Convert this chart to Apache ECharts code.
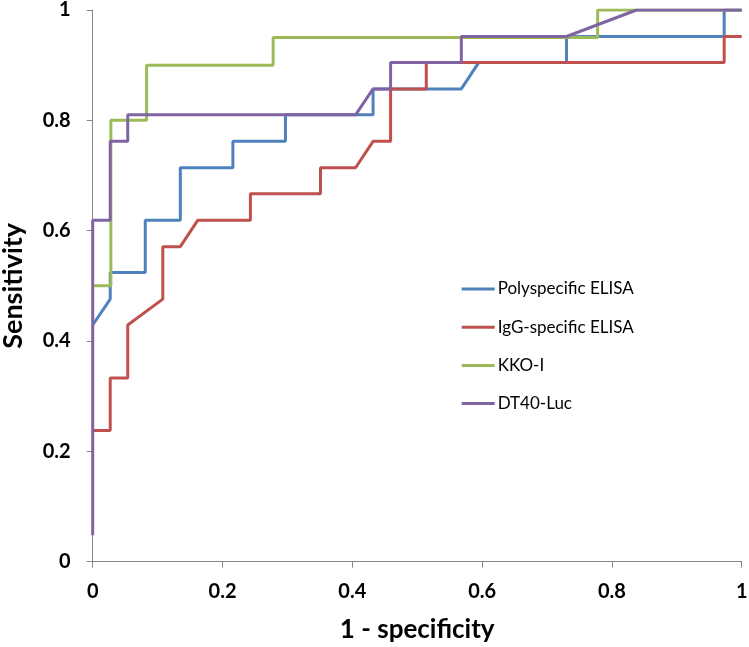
<!DOCTYPE html>
<html>
<head>
<meta charset="utf-8">
<script src="https://cdn.jsdelivr.net/npm/echarts@6/dist/echarts.min.js"></script>
<style>
html,body{margin:0;padding:0;background:#fff;}
#chart{width:749px;height:647px;}
</style>
</head>
<body>
<div id="chart"></div>
<script>
// Series names
const seriesNames = ['Polyspecific ELISA', 'IgG-specific ELISA', 'KKO-I', 'DT40-Luc'];
// Axis tick labels
const tickValues = [0, 0.2, 0.4, 0.6, 0.8, 1];

// Polyspecific ELISA (1 - specificity, sensitivity)
const polyX = [0, 0.027, 0.027, 0.081, 0.081, 0.135, 0.135, 0.216, 0.216, 0.297, 0.297, 0.432, 0.432, 0.568, 0.595, 0.730, 0.730, 0.973, 0.973, 1];
const polyY = [0.429, 0.476, 0.524, 0.524, 0.619, 0.619, 0.714, 0.714, 0.762, 0.762, 0.810, 0.810, 0.857, 0.857, 0.905, 0.905, 0.952, 0.952, 1, 1];

// IgG-specific ELISA
const iggX = [0, 0.027, 0.027, 0.054, 0.054, 0.108, 0.108, 0.135, 0.162, 0.243, 0.243, 0.351, 0.351, 0.405, 0.432, 0.459, 0.459, 0.514, 0.514, 0.973, 0.973, 1];
const iggY = [0.238, 0.238, 0.333, 0.333, 0.429, 0.476, 0.571, 0.571, 0.619, 0.619, 0.667, 0.667, 0.714, 0.714, 0.762, 0.762, 0.857, 0.857, 0.905, 0.905, 0.952, 0.952];

// KKO-I
const kkoX = [0, 0.028, 0.028, 0.083, 0.083, 0.278, 0.278, 0.778, 0.778, 1];
const kkoY = [0.5, 0.5, 0.8, 0.8, 0.9, 0.9, 0.95, 0.95, 1, 1];

// DT40-Luc
const dtX = [0, 0, 0.027, 0.027, 0.054, 0.054, 0.405, 0.432, 0.459, 0.459, 0.568, 0.568, 0.730, 0.838, 1];
const dtY = [0.048, 0.619, 0.619, 0.762, 0.762, 0.810, 0.810, 0.857, 0.857, 0.905, 0.905, 0.952, 0.952, 1, 1];

const colors = ['#4F81BD', '#C0504D', '#9BBB59', '#8064A2'];
const xs = [polyX, iggX, kkoX, dtX];
const ys = [polyY, iggY, kkoY, dtY];

const font = 'Lato, "Open Sans", "Liberation Sans", sans-serif';
const chart = echarts.init(document.getElementById('chart'), null, {renderer: 'canvas'});

const series = seriesNames.map((name, i) => ({
  name: name,
  type: 'line',
  data: xs[i].map((x, k) => [x, ys[i][k]]),
  symbol: 'none',
  lineStyle: {color: colors[i], width: 3},
  itemStyle: {color: colors[i]},
  animation: false
}));

function fmt(v) {
  const r = Math.round(v * 10) / 10;
  return tickValues.indexOf(r) >= 0 ? String(r) : '';
}

chart.setOption({
  animation: false,
  backgroundColor: '#fff',
  grid: {left: 92.7, right: 7.3, top: 10, bottom: 85.3, containLabel: false, outerBoundsMode: 'none'},
  legend: {
    orient: 'vertical',
    left: 461.7,
    top: 280.5,
    padding: 0,
    itemWidth: 33,
    itemHeight: 3,
    itemGap: 21.2,
    icon: 'rect',
    textStyle: {fontFamily: font, fontSize: 17, color: '#000', padding: [0, 0, 0, -2]},
    data: seriesNames
  },
  xAxis: {
    type: 'value',
    min: 0, max: 1, interval: 0.2,
    name: '1 - specificity',
    nameLocation: 'middle',
    nameGap: 55,
    nameTextStyle: {fontFamily: font, fontSize: 26, fontWeight: 'bold', color: '#000'},
    axisLine: {show: true, onZero: false, lineStyle: {color: '#868686', width: 1}},
    axisTick: {show: true, length: 6, inside: false, lineStyle: {color: '#868686'}},
    splitLine: {show: false},
    axisLabel: {fontFamily: font, fontSize: 20, fontWeight: 'bold', color: '#000', margin: 20, formatter: fmt}
  },
  yAxis: {
    type: 'value',
    min: 0, max: 1, interval: 0.2,
    name: 'Sensitivity',
    nameLocation: 'middle',
    nameGap: 66,
    nameRotate: 90,
    nameTextStyle: {fontFamily: font, fontSize: 27, fontWeight: 'bold', color: '#000'},
    axisLine: {show: true, onZero: false, lineStyle: {color: '#868686', width: 1}},
    axisTick: {show: true, length: 6, inside: false, lineStyle: {color: '#868686'}},
    splitLine: {show: false},
    axisLabel: {fontFamily: font, fontSize: 20, fontWeight: 'bold', color: '#000', margin: 22, formatter: fmt}
  },
  series: series
});
</script>
</body>
</html>
